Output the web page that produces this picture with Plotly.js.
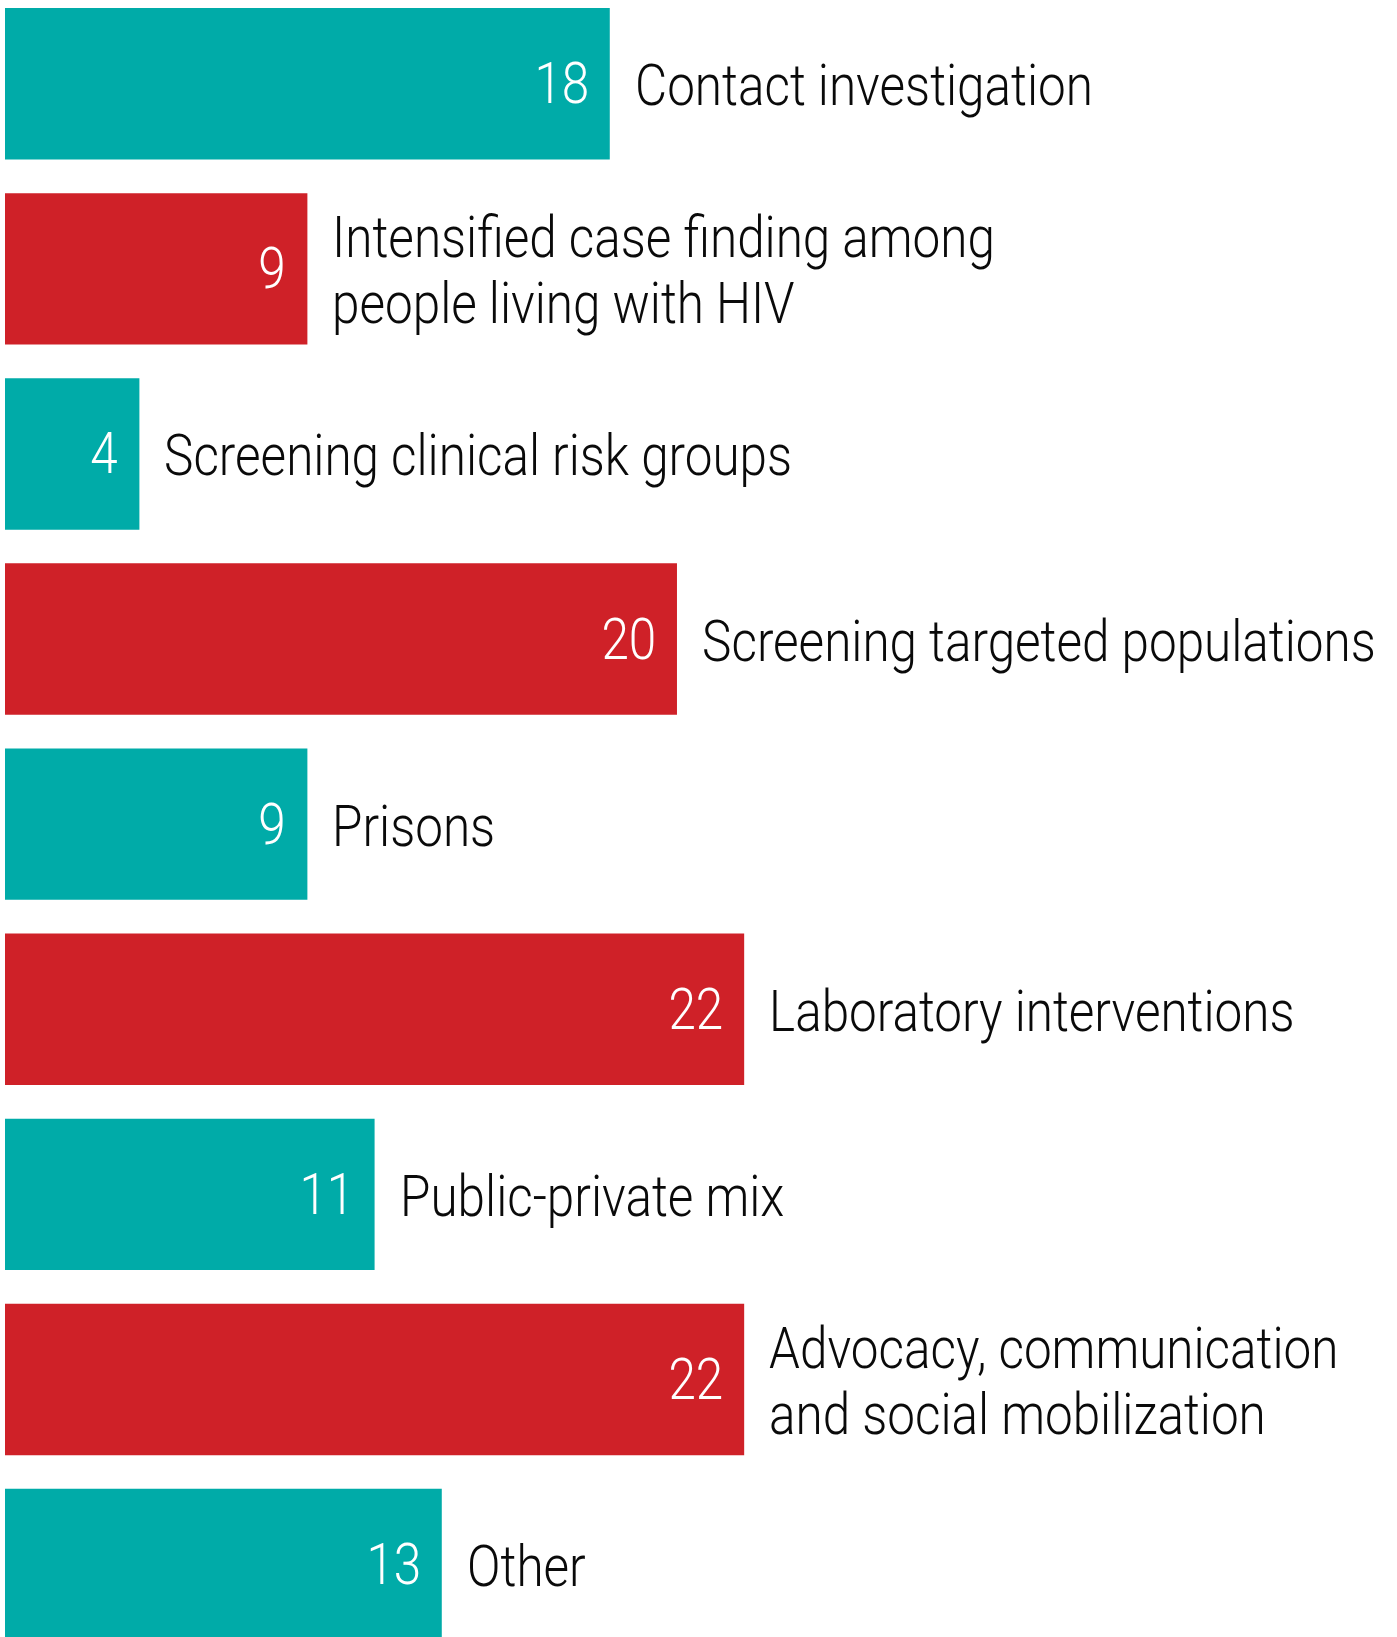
<!DOCTYPE html>
<html>
<head>
<meta charset="utf-8">
<script src="https://cdn.plot.ly/plotly-3.0.1.min.js"></script>
<style>
  html, body { margin: 0; padding: 0; background: #ffffff; }
  #chart { width: 1397px; height: 1637px; }
</style>
</head>
<body>
<div id="chart"></div>
<script>
// ---- data ----
const categories = [
  "Contact investigation",
  "Intensified case finding among|people living with HIV",
  "Screening clinical risk groups",
  "Screening targeted populations",
  "Prisons",
  "Laboratory interventions",
  "Public-private mix",
  "Advocacy, communication|and social mobilization",
  "Other"
];
const values = [18, 9, 4, 20, 9, 22, 11, 22, 13];
const seriesColors = ["#00aba8", "#cf2128"];

// ---- build ----
const FONT = "Roboto, 'DejaVu Sans Condensed', sans-serif";
const barColors = categories.map((c, i) => seriesColors[i % 2]);

const trace = {
  type: "bar",
  orientation: "h",
  x: values,
  y: categories,
  marker: { color: barColors, line: { width: 0 } },
  hoverinfo: "none"
};

const annotations = [];
categories.forEach((cat, i) => {
  annotations.push({
    x: values[i], y: cat, xref: "x", yref: "y",
    text: String(values[i]),
    showarrow: false, xanchor: "right", yanchor: "middle",
    xshift: -19, yshift: 0,
    font: { family: FONT, size: 57, color: "#ffffff", weight: 300 }
  });
  const lines = cat.split("|");
  const lineGap = 66;
  lines.forEach((ln, j) => {
    const off = (lines.length - 1) / 2 - j;
    annotations.push({
      x: values[i], y: cat, xref: "x", yref: "y",
      text: ln,
      showarrow: false, xanchor: "left", yanchor: "middle",
      xshift: 23, yshift: off * lineGap - 2,
      font: { family: FONT, size: 57, color: "#0a0a0a", weight: 300 }
    });
  });
});

const layout = {
  width: 1397,
  height: 1637,
  margin: { l: 5, r: 0, t: 0, b: 0, pad: 0 },
  paper_bgcolor: "#ffffff",
  plot_bgcolor: "#ffffff",
  showlegend: false,
  bargap: 0.182,
  xaxis: { visible: false, range: [0, 41.43], fixedrange: true },
  yaxis: { visible: false, type: "category", range: [8.3915, -0.4525], fixedrange: true },
  annotations: annotations
};

const gd = document.getElementById("chart");
Plotly.newPlot(gd, [trace], layout, { displayModeBar: false, staticPlot: true }).then(() => {
  // condense the text horizontally to imitate the narrow typeface of the original
  const first = gd.querySelector('g.annotation[data-index="1"] text');
  const s = first ? Math.min(1, 458 / first.getBBox().width) : 0.85;
  const full = gd._fullLayout.annotations;
  gd.querySelectorAll("g.annotation").forEach(g => {
    const idx = +g.getAttribute("data-index");
    const t = g.querySelector("text");
    if (!t) return;
    const bb = t.getBBox();
    const x0 = full[idx].xanchor === "right" ? bb.x + bb.width : bb.x;
    const prev = t.getAttribute("transform") || "";
    t.setAttribute("transform", prev + ` translate(${x0},0) scale(${s},1) translate(${-x0},0)`);
  });
});
</script>
</body>
</html>
